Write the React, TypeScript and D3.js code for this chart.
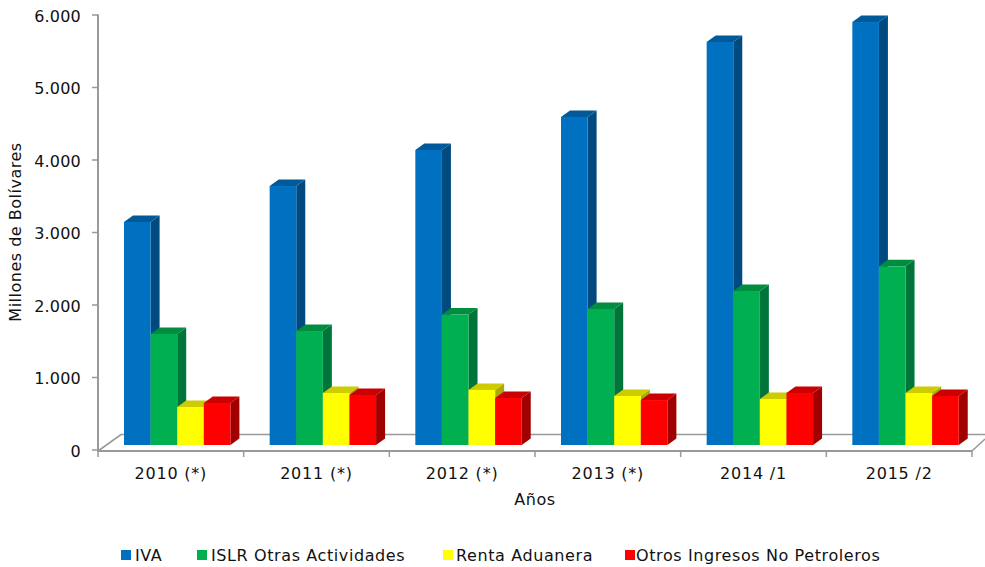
import React from "react";
import * as d3 from "d3";

const categories = ["2010 (*)", "2011 (*)", "2012 (*)", "2013 (*)", "2014 /1", "2015 /2"];
const seriesNames = ["IVA", "ISLR Otras Actividades", "Renta Aduanera", "Otros Ingresos No Petroleros"];
const iva = [3076, 3572, 4069, 4524, 5559, 5834];
const islr = [1531, 1572, 1800, 1876, 2124, 2465];
const renta = [524, 717, 759, 676, 634, 717];
const otros = [579, 690, 648, 620, 717, 676];
const seriesValues = [iva, islr, renta, otros];
const front = ["#0070C0", "#00B050", "#FFFF00", "#FF0000"];
const top = ["#005A9A", "#008D40", "#CCCC00", "#CC0000"];
const side = ["#004A80", "#00753A", "#AAAA00", "#A00000"];
const yTicks = [0, 1000, 2000, 3000, 4000, 5000, 6000];
const legendSquareX = [121, 197, 443, 625];
const legendTextX = [135, 211, 456, 636];

const font = "'DejaVu Sans', Verdana, sans-serif";
const axisColor = "#999999";
const fmt = (v: number) => (v === 0 ? "0" : d3.format(",")(v).replace(",", "."));

export default function App() {
  const y = d3.scaleLinear().domain([0, 6000]).range([450, 15]);
  const yBar = d3.scaleLinear().domain([0, 6000]).range([445, 10]);
  const x = d3.scaleBand<string>().domain(categories).range([98, 972]);
  const inner = d3.scaleBand<number>().domain([0, 1, 2, 3]).range([26, 132.4]);
  const dx = 9;
  const dy = 6.5;
  return (
    <svg width={985} height={567} style={{ position: "absolute", left: 0, top: 0, background: "#fff" }}>
      <polyline points={`98,451 121,434.5 985,434.5`} fill="none" stroke={axisColor} strokeWidth={1.6} />
      <line x1={972} y1={451} x2={985} y2={439} stroke={axisColor} strokeWidth={1.6} />
      {categories.map((c, i) =>
        seriesValues.map((vals, s) => {
          const x0 = x(c)! + inner(s)!;
          const w = inner.bandwidth();
          const yt = yBar(vals[i]);
          const yb = yBar(0);
          return (
            <g key={`${i}-${s}`}>
              <path d={`M${x0 + w},${yt}L${x0 + w + dx},${yt - dy}L${x0 + w + dx},${yb - dy}L${x0 + w},${yb}Z`} fill={side[s]} />
              <path d={`M${x0},${yt}L${x0 + dx},${yt - dy}L${x0 + w + dx},${yt - dy}L${x0 + w},${yt}Z`} fill={top[s]} />
              <rect x={x0} y={yt} width={w} height={yb - yt} fill={front[s]} />
            </g>
          );
        })
      )}
      <line x1={98} y1={14.5} x2={98} y2={452} stroke={axisColor} strokeWidth={2} />
      <line x1={97} y1={451} x2={972} y2={451} stroke={axisColor} strokeWidth={2} />
      {yTicks.map((t) => (
        <g key={t}>
          <line x1={92} x2={98} y1={y(t)} y2={y(t)} stroke={axisColor} strokeWidth={1.5} />
          <text x={81} y={y(t) + 6.5} textAnchor="end" fontFamily={font} fontSize={16} fill="#111" letterSpacing={0.2}>
            {fmt(t)}
          </text>
        </g>
      ))}
      {d3.range(7).map((i) => {
        const tx = 98 + x.step() * i;
        return <line key={i} x1={tx} x2={tx} y1={451} y2={457} stroke={axisColor} strokeWidth={1.5} />;
      })}
      {categories.map((c) => (
        <text key={c} x={x(c)! + x.bandwidth() / 2} y={479} textAnchor="middle" fontFamily={font} fontSize={16} fill="#111" letterSpacing={0.8}>
          {c}
        </text>
      ))}
      <text x={535} y={505} textAnchor="middle" fontFamily={font} fontSize={16} fill="#111" letterSpacing={0.6}>Años</text>
      <text transform="translate(21,232) rotate(-90)" textAnchor="middle" fontFamily={font} fontSize={16} fill="#111" letterSpacing={0.5}>
        Millones de Bolívares
      </text>
      {seriesNames.map((n, s) => (
        <g key={n}>
          <rect x={legendSquareX[s]} y={550} width={10} height={10} fill={front[s]} />
          <text x={legendTextX[s]} y={561} fontFamily={font} fontSize={16} fill="#111" letterSpacing={0.6}>{n}</text>
        </g>
      ))}
    </svg>
  );
}
